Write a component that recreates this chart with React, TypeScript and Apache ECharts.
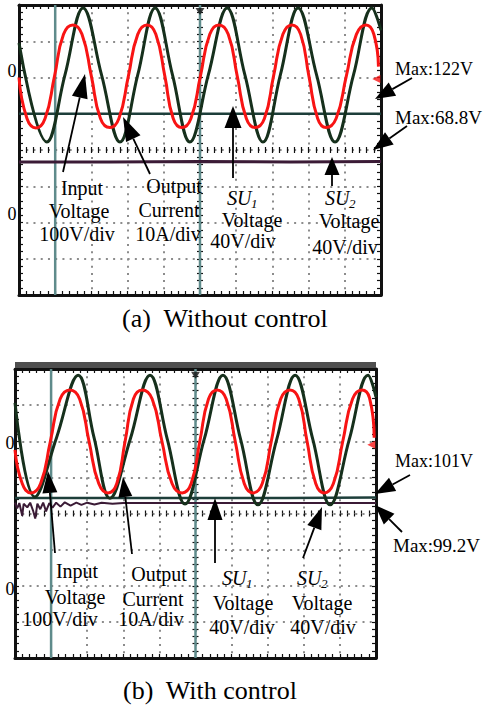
import React, { useEffect, useRef } from "react";
import * as echarts from "echarts";

// ---------- data (x, y in oscilloscope divisions, centre of screen = 0,0) ----------
const cursorX = [-4, 0];

// (a) Without control
const inputVoltageA = [
  [-5.0, 2.0], [-4.78, 0.87], [-4.53, 0.61], [-4.28, 0.87], [-4.02, 2.03], [-3.77, 3.19],
  [-3.51, 3.45], [-3.26, 3.19], [-3.0, 2.03], [-2.75, 0.87], [-2.49, 0.62], [-2.24, 0.87],
  [-1.98, 2.03], [-1.72, 3.19], [-1.46, 3.45], [-1.22, 3.19], [-0.97, 2.03], [-0.74, 0.87],
  [-0.5, 0.62], [-0.25, 0.87], [0.01, 2.03], [0.27, 3.19], [0.52, 3.45], [0.78, 3.19],
  [1.03, 2.03], [1.28, 0.87], [1.52, 0.62], [1.78, 0.87], [2.03, 2.03], [2.29, 3.19],
  [2.54, 3.45], [2.78, 3.19], [3.01, 2.03], [3.25, 0.87], [3.48, 0.62], [3.76, 0.87],
  [4.04, 2.03], [4.32, 3.19], [4.59, 3.45], [4.8, 3.2], [4.93, 2.3],
];
const outputCurrentA = [
  [-5.0, 2.95], [-4.23, 0.22], [-3.73, 2.07], [-3.23, 3.92], [-2.72, 2.07], [-2.21, 0.22],
  [-1.72, 2.07], [-1.24, 3.92], [-0.76, 2.07], [-0.28, 0.22], [0.23, 2.07], [0.75, 3.92],
  [1.24, 2.07], [1.74, 0.22], [2.22, 2.07], [2.71, 3.92], [3.22, 2.07], [3.73, 0.22],
  [4.24, 2.07], [4.75, 3.92], [5.0, 3.3],
];
const su1VoltageA = [[-5, 1.0], [-2.5, 1.0], [0, 1.0], [2.5, 1.0], [5, 1.0]];
const su2VoltageA = [[-5, -0.33], [-2.5, -0.33], [0, -0.32], [2.5, -0.33], [5, -0.32]];

// (b) With control
const inputVoltageB = [
  [-5.0, 1.76], [-4.8, 0.83], [-4.56, 0.57], [-4.29, 0.83], [-4.02, 2.0], [-3.75, 3.17],
  [-3.48, 3.42], [-3.21, 3.17], [-2.95, 2.0], [-2.68, 0.83], [-2.42, 0.57], [-2.18, 0.83],
  [-1.95, 2.0], [-1.72, 3.17], [-1.48, 3.42], [-1.2, 3.17], [-0.93, 2.0], [-0.65, 0.83],
  [-0.37, 0.57], [-0.12, 0.83], [0.12, 2.0], [0.36, 3.17], [0.6, 3.42], [0.85, 3.17],
  [1.1, 2.0], [1.35, 0.83], [1.59, 0.57], [1.85, 0.83], [2.1, 2.0], [2.36, 3.17],
  [2.62, 3.42], [2.86, 3.17], [3.09, 2.0], [3.33, 0.83], [3.56, 0.57], [3.82, 0.83],
  [4.08, 2.0], [4.35, 3.17], [4.61, 3.42], [4.82, 3.2], [4.95, 2.1],
];
const outputCurrentB = [
  [-5.0, 3.06], [-4.45, 0.46], [-3.85, 2.1], [-3.25, 3.83], [-2.81, 2.1], [-2.37, 0.42],
  [-1.81, 2.05], [-1.26, 3.83], [-0.78, 2.05], [-0.29, 0.26], [0.24, 2.05], [0.76, 3.83],
  [1.25, 2.05], [1.73, 0.24], [2.25, 2.05], [2.76, 3.83], [3.25, 2.05], [3.73, 0.24],
  [4.26, 2.05], [4.78, 3.83], [5.0, 3.22],
];
const su1VoltageB = [[-5, 0.43], [-2.5, 0.43], [0, 0.43], [2.5, 0.43], [5, 0.44]];
const su2VoltageB = [
  [-5, 0.3], [-4.94, 0.14], [-4.88, 0.29], [-4.8, -0.06], [-4.76, 0.27], [-4.66, 0.17],
  [-4.58, 0.3], [-4.5, 0.08], [-4.44, -0.14], [-4.38, 0.27], [-4.3, 0.12], [-4.22, 0.3],
  [-4.14, 0.06], [-4.05, 0.29], [-3.96, 0.16], [-3.86, 0.3], [-3.74, 0.19], [-3.62, 0.31],
  [-3.46, 0.22], [-3.3, 0.3], [-3.16, 0.24], [-3.0, 0.3], [-2.8, 0.25], [-2.6, 0.3],
  [-2.3, 0.27], [-2.0, 0.29], [0, 0.29], [2.5, 0.29], [5, 0.29],
];

const inputMarkerY = [1.96, 1.9];
const triggerMarkerY = [3.82, 3.83];

const maxLabels = ["Max:122V", "Max:68.8V", "Max:101V", "Max:99.2V"];
const captions = ["(a)  Without control", "(b)  With control"];

// ---------- layout / style ----------
const W = 498;
const H = 711;
const FONT = "'Liberation Serif', 'Times New Roman', serif";
const panels = [
  { left: 19, top: 5, width: 362, height: 290 },
  { left: 15, top: 369, width: 361, height: 289 },
];
const C_RED = "#f81414";
const C_GREEN = "#16301c";
const C_SU1 = "#1d3e3a";
const C_SU2 = "#3b1b36";
const C_CURSOR = "#5f8b8b";
const dotted = { color: "#8c8c8c", width: 2, type: [2, 5.24] };
const tickStyle = { color: "#111", width: 1.2 };

function xAxes(g: number) {
  const base = { gridIndex: g, type: "value", min: -5, max: 5, interval: 1, axisLabel: { show: false } };
  return [
    { ...base, position: "bottom", axisLine: { show: true, onZero: false, lineStyle: { color: "#111", width: 3 } },
      axisTick: { show: true, inside: true, length: 4, lineStyle: tickStyle },
      minorTick: { show: true, splitNumber: 5, length: 4, lineStyle: tickStyle },
      splitLine: { show: true, lineStyle: dotted } },
    { ...base, position: "top", axisLine: { show: true, onZero: false, lineStyle: { color: "#111", width: 3 } },
      axisTick: { show: true, inside: true, length: 4, lineStyle: tickStyle },
      minorTick: { show: true, splitNumber: 5, length: 4, lineStyle: tickStyle },
      splitLine: { show: false } },
    { ...base, position: "bottom", axisLine: { show: false, onZero: true, onZeroAxisIndex: g * 4 },
      axisTick: { show: true, inside: true, length: 3, lineStyle: tickStyle },
      minorTick: { show: true, splitNumber: 5, length: 3, lineStyle: tickStyle },
      splitLine: { show: false } },
    { ...base, position: "bottom", axisLine: { show: false, onZero: true, onZeroAxisIndex: g * 4 },
      axisTick: { show: true, inside: false, length: 3, lineStyle: tickStyle },
      minorTick: { show: true, splitNumber: 5, length: 3, lineStyle: tickStyle },
      splitLine: { show: false } },
  ];
}
function yAxes(g: number) {
  const base = { gridIndex: g, type: "value", min: -4, max: 4, interval: 1, axisLabel: { show: false } };
  return [
    { ...base, position: "left", axisLine: { show: true, onZero: false, lineStyle: { color: "#111", width: 3 } },
      axisTick: { show: true, inside: true, length: 4, lineStyle: tickStyle },
      minorTick: { show: true, splitNumber: 5, length: 4, lineStyle: tickStyle },
      splitLine: { show: true, lineStyle: dotted } },
    { ...base, position: "right", axisLine: { show: true, onZero: false, lineStyle: { color: "#111", width: 3 } },
      axisTick: { show: true, inside: true, length: 4, lineStyle: tickStyle },
      minorTick: { show: true, splitNumber: 5, length: 4, lineStyle: tickStyle },
      splitLine: { show: false } },
    { ...base, position: "left", axisLine: { show: false, onZero: true, onZeroAxisIndex: g * 4 },
      axisTick: { show: true, inside: true, length: 3, lineStyle: tickStyle },
      minorTick: { show: true, splitNumber: 5, length: 3, lineStyle: tickStyle },
      splitLine: { show: false } },
    { ...base, position: "left", axisLine: { show: false, onZero: true, onZeroAxisIndex: g * 4 },
      axisTick: { show: true, inside: false, length: 3, lineStyle: tickStyle },
      minorTick: { show: true, splitNumber: 5, length: 3, lineStyle: tickStyle },
      splitLine: { show: false } },
  ];
}

function line(g: number, name: string, data: number[][], color: string, width: number, smooth: number | boolean, z: number) {
  return {
    type: "line", name, xAxisIndex: g * 4, yAxisIndex: g * 4, data, symbol: "none", showSymbol: false,
    smooth, lineStyle: { color, width }, z, silent: true,
  };
}

function panelSeries(g: number, red: number[][], green: number[][], su1: number[][], su2: number[][], su2Width: number) {
  const s: any[] = cursorX.map((c, i) =>
    line(g, "cursor" + i, [[c, -4], [c, 4]], C_CURSOR, 2.5, false, 2)
  );
  s.push(line(g, "SU1", su1, C_SU1, 2.5, false, 3));
  s.push(line(g, "SU2", su2, C_SU2, su2Width, false, 3));
  s.push(line(g, "Output current", green, C_GREEN, 3, 0.4, 4));
  s.push(line(g, "Input voltage", red, C_RED, 3, 0.5, 5));
  s.push({
    type: "scatter", xAxisIndex: g * 4, yAxisIndex: g * 4, silent: true, z: 6,
    data: [[4.87, inputMarkerY[g]]], symbol: "triangle", symbolRotate: 90, symbolSize: [8, 8],
    itemStyle: { color: C_RED },
  });
  s.push({
    type: "scatter", xAxisIndex: g * 4, yAxisIndex: g * 4, silent: true, z: 6,
    data: [[0, triggerMarkerY[g]]], symbol: "triangle", symbolRotate: 180, symbolSize: [9, 7],
    itemStyle: { color: "#111" },
  });
  return s;
}

function txt(x: number, y: number, s: string, size = 20, align = "center", italic = false) {
  return {
    type: "text", x, y, z: 100,
    style: {
      text: s, fontSize: size, fontFamily: FONT, fontStyle: italic ? "italic" : "normal", fill: "#000",
      align, verticalAlign: "middle", textAlign: align, textVerticalAlign: "middle",
    },
  };
}
function suLabel(x: number, y: number, sub: string) {
  return [txt(x, y, "SU", 20, "left", true), txt(x + 24, y + 5, sub, 13, "left", true)];
}
function arrow(tail: number[], tip: number[], len: number, w: number) {
  const dx = tip[0] - tail[0];
  const dy = tip[1] - tail[1];
  const L = Math.hypot(dx, dy);
  const ux = dx / L;
  const uy = dy / L;
  const bx = tip[0] - ux * len;
  const by = tip[1] - uy * len;
  const px = (-uy * w) / 2;
  const py = (ux * w) / 2;
  return [
    { type: "line", z: 100, shape: { x1: tail[0], y1: tail[1], x2: bx, y2: by }, style: { stroke: "#000", lineWidth: 1.8 } },
    { type: "polygon", z: 100, shape: { points: [tip, [bx + px, by + py], [bx - px, by - py]] }, style: { fill: "#000" } },
  ];
}

const annotations: any[] = [
  // header strip of scope (b)
  { type: "rect", z: 1, shape: { x: 15, y: 362, width: 361, height: 6 }, style: { fill: "#4f4f4f" } },
  // ground markers
  txt(12, 71, "0", 18), txt(12, 214, "0", 18), txt(10, 443, "0", 18), txt(10, 589, "0", 18),
  // (a) labels
  txt(82, 188, "Input"), txt(79, 211, "Voltage"), txt(77, 234, "100V/div"),
  txt(174, 186, "Output"), txt(169, 210, "Current"), txt(168, 234, "10A/div"),
  ...suLabel(227, 198, "1"), txt(252, 220, "Voltage"), txt(243, 241, "40V/div"),
  ...suLabel(325, 198, "2"), txt(349, 221, "Voltage"), txt(345, 247, "40V/div"),
  txt(395, 69, maxLabels[0], 18, "left"), txt(395, 117, maxLabels[1], 19, "left"),
  ...arrow([63, 172], [85, 74], 24, 16),
  ...arrow([150, 174], [123, 117], 24, 16),
  ...arrow([233, 178], [233, 106], 22, 17),
  ...arrow([332, 186], [332, 157], 18, 15),
  ...arrow([412, 78], [375, 99], 20, 15),
  ...arrow([407, 126], [373, 150], 20, 15),
  // (b) labels
  txt(77, 571, "Input"), txt(75, 597, "Voltage"), txt(60, 619, "100V/div"),
  txt(159, 574, "Output"), txt(153, 599, "Current"), txt(151, 619, "10A/div"),
  ...suLabel(222, 578, "1"), txt(243, 603, "Voltage"), txt(242, 627, "40V/div"),
  ...suLabel(297, 578, "2"), txt(322, 603, "Voltage"), txt(323, 627, "40V/div"),
  txt(395, 461, maxLabels[2], 18, "left"), txt(393, 545, maxLabels[3], 19, "left"),
  ...arrow([55, 553], [48, 471], 22, 15),
  ...arrow([132, 554], [123, 477], 20, 14),
  ...arrow([215, 563], [215, 498], 22, 15),
  ...arrow([303, 558], [322, 507], 22, 15),
  ...arrow([410, 475], [375, 494], 20, 15),
  ...arrow([402, 532], [375, 505], 20, 15),
  // captions
  txt(122, 318, captions[0], 26, "left"),
  txt(123, 690, captions[1], 26, "left"),
];

export default function App() {
  const ref = useRef<HTMLDivElement>(null);
  useEffect(() => {
    if (!ref.current) return;
    const chart = echarts.init(ref.current, undefined, { renderer: "svg" });
    chart.setOption({
      animation: false,
      backgroundColor: "#ffffff",
      textStyle: { fontFamily: FONT },
      grid: panels.map((p) => ({ ...p, show: false, containLabel: false, outerBoundsMode: "none" })),
      xAxis: [...xAxes(0), ...xAxes(1)],
      yAxis: [...yAxes(0), ...yAxes(1)],
      series: [
        ...panelSeries(0, inputVoltageA, outputCurrentA, su1VoltageA, su2VoltageA, 3),
        ...panelSeries(1, inputVoltageB, outputCurrentB, su1VoltageB, su2VoltageB, 2),
      ],
      graphic: { elements: annotations },
    } as any);
    return () => chart.dispose();
  }, []);
  return (
    <div
      ref={ref}
      style={{ position: "fixed", left: 0, top: 0, width: W, height: H, background: "#fff" }}
    />
  );
}
